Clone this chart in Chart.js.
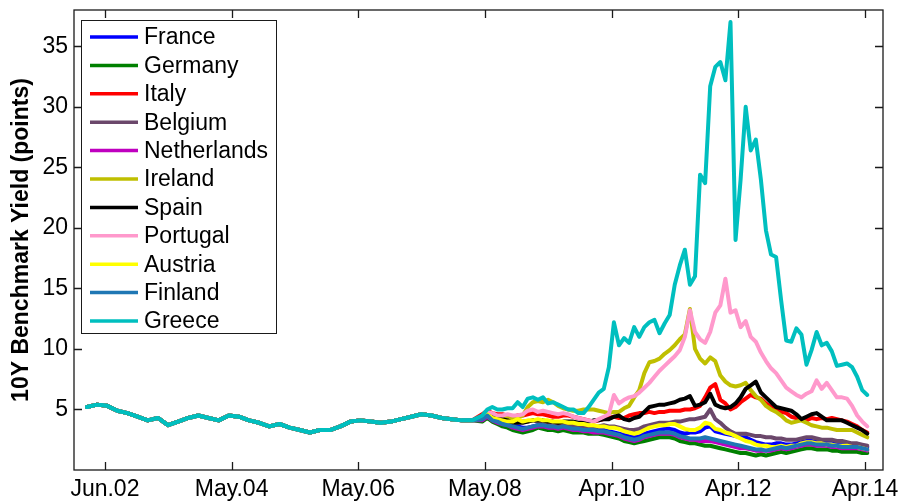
<!DOCTYPE html>
<html>
<head>
<meta charset="utf-8">
<script src="https://cdn.jsdelivr.net/npm/chart.js"></script>
<style>
  html, body { margin: 0; padding: 0; background: #fff; }
  #wrap { width: 901px; height: 502px; }
</style>
</head>
<body>
<div id="wrap"><canvas id="yields" width="901" height="502"></canvas></div>
<script>
// x axis = trading-day index, ticks every 500 days
const tickDays = [71, 571, 1071, 1571, 2071, 2571, 3071];
const tickLabels = ['Jun.02', 'May.04', 'May.06', 'May.08', 'Apr.10', 'Apr.12', 'Apr.14'];
const yTicks = [5, 10, 15, 20, 25, 30, 35];

const countries = ['France', 'Germany', 'Italy', 'Belgium', 'Netherlands', 'Ireland',
                   'Spain', 'Portugal', 'Austria', 'Finland', 'Greece'];
const colours = ['#0000ff', '#008000', '#ff0000', '#6b486b', '#bf00bf', '#bfbf00',
                 '#000000', '#ff99cc', '#ffff00', '#1f77b4', '#00bfbf'];

// before 2008 all eleven yields sit on top of each other
const earlyDays = [0, 40, 80, 120, 160, 200, 240, 280, 320, 360, 400, 440, 480, 520, 560,
  600, 640, 680, 720, 760, 800, 840, 880, 920, 960, 1000, 1040, 1080, 1120, 1160, 1200,
  1240, 1280, 1320, 1360, 1400, 1440, 1480, 1520];
const pre2008 = [5.2, 5.4, 5.3, 4.9, 4.7, 4.4, 4.1, 4.3, 3.7, 4.0,
  4.3, 4.5, 4.3, 4.1, 4.5, 4.4, 4.1, 3.9, 3.6, 3.8,
  3.5, 3.3, 3.1, 3.3, 3.3, 3.6, 4.0, 4.1, 4.0, 3.9,
  4.0, 4.2, 4.4, 4.6, 4.5, 4.3, 4.2, 4.1, 4.1];

const lateDays = [1560, 1580, 1600, 1620, 1640, 1660, 1680, 1700, 1720, 1740, 1760, 1780,
  1800, 1820, 1840, 1860, 1880, 1900, 1920, 1940, 1960, 1980, 2000, 2020, 2040, 2060, 2080,
  2100, 2120, 2140, 2160, 2180, 2200, 2220, 2240, 2260, 2280, 2300, 2320, 2340, 2360, 2380,
  2400, 2420, 2440, 2460, 2480, 2500, 2520, 2540, 2560, 2580, 2600, 2620, 2640, 2660, 2680,
  2700, 2720, 2740, 2760, 2780, 2800, 2820, 2840, 2860, 2880, 2900, 2920, 2940, 2960, 2980,
  3000, 3020, 3040, 3060, 3080];

const france = [4.2, 4.5, 4.2, 4.1, 3.9, 3.8, 3.6, 3.6, 3.5, 3.5,
  3.6, 3.7, 3.7, 3.6, 3.6, 3.5, 3.6, 3.5, 3.4, 3.4,
  3.4, 3.3, 3.3, 3.3, 3.3, 3.2, 3.1, 3.0, 2.9, 2.8,
  2.7, 2.8, 3.0, 3.1, 3.2, 3.3, 3.4, 3.4, 3.3, 3.1,
  3.0, 3.1, 3.1, 3.2, 3.5, 3.6, 3.2, 3.1, 3.0, 2.9,
  2.8, 2.7, 2.7, 2.5, 2.3, 2.2, 2.1, 2.1, 2.2, 2.2,
  2.1, 2.1, 2.2, 2.3, 2.4, 2.4, 2.3, 2.3, 2.3, 2.3,
  2.2, 2.2, 2.2, 2.1, 2.1, 2.0, 1.9];
const germany = [4.0, 4.3, 4.0, 3.8, 3.6, 3.5, 3.3, 3.2, 3.1, 3.2,
  3.3, 3.5, 3.4, 3.3, 3.3, 3.2, 3.3, 3.2, 3.1, 3.1,
  3.1, 3.0, 3.0, 3.0, 2.9, 2.8, 2.7, 2.6, 2.4, 2.3,
  2.2, 2.3, 2.4, 2.5, 2.6, 2.7, 2.7, 2.7, 2.6, 2.4,
  2.3, 2.2, 2.2, 2.1, 2.0, 2.0, 1.9, 1.8, 1.7, 1.6,
  1.5, 1.4, 1.4, 1.3, 1.2, 1.3, 1.2, 1.3, 1.4, 1.5,
  1.4, 1.5, 1.6, 1.7, 1.8, 1.8, 1.7, 1.7, 1.7, 1.6,
  1.6, 1.5, 1.5, 1.5, 1.5, 1.4, 1.4];
const italy = [4.6, 4.9, 4.7, 4.6, 4.6, 4.5, 4.4, 4.5, 4.5, 4.6,
  4.7, 4.6, 4.6, 4.5, 4.4, 4.4, 4.5, 4.5, 4.4, 4.3,
  4.2, 4.1, 4.0, 4.1, 4.2, 4.3, 4.4, 4.3, 4.3, 4.5,
  4.6, 4.7, 4.7, 4.8, 4.7, 4.8, 4.8, 4.9, 4.9, 4.9,
  5.0, 5.0, 5.1, 5.3, 6.0, 6.8, 7.1, 5.8, 5.5, 5.0,
  5.2, 5.6, 5.9, 6.2, 6.0, 5.9, 5.5, 5.2, 5.0, 4.8,
  4.7, 4.4, 4.3, 4.2, 4.1, 4.3, 4.2, 4.3, 4.2, 4.3,
  4.2, 4.1, 4.0, 3.8, 3.6, 3.3, 3.1];
const belgium = [4.2, 4.6, 4.3, 4.2, 4.2, 4.1, 4.0, 4.0, 4.0, 4.0,
  4.1, 4.0, 4.0, 3.9, 3.9, 3.8, 3.8, 3.8, 3.7, 3.6,
  3.6, 3.6, 3.5, 3.6, 3.7, 3.6, 3.6, 3.5, 3.4, 3.3,
  3.3, 3.4, 3.6, 3.7, 3.8, 3.9, 3.9, 3.9, 4.0, 4.0,
  4.1, 4.2, 4.2, 4.3, 4.4, 5.0, 4.2, 3.9, 3.5, 3.2,
  3.0, 3.0, 3.0, 2.9, 2.8, 2.8, 2.7, 2.7, 2.6, 2.6,
  2.5, 2.5, 2.5, 2.6, 2.7, 2.7, 2.6, 2.5, 2.5, 2.5,
  2.4, 2.4, 2.3, 2.2, 2.2, 2.1, 2.0];
const netherlands = [4.1, 4.4, 4.1, 3.9, 3.8, 3.7, 3.5, 3.4, 3.3, 3.4,
  3.5, 3.6, 3.6, 3.5, 3.5, 3.4, 3.5, 3.4, 3.3, 3.3,
  3.2, 3.2, 3.1, 3.1, 3.1, 3.0, 2.9, 2.8, 2.6, 2.5,
  2.4, 2.5, 2.7, 2.8, 2.9, 3.0, 3.0, 3.0, 2.9, 2.7,
  2.6, 2.5, 2.5, 2.4, 2.4, 2.4, 2.3, 2.2, 2.1, 2.0,
  1.9, 1.8, 1.8, 1.7, 1.6, 1.6, 1.6, 1.6, 1.7, 1.8,
  1.7, 1.8, 1.9, 2.0, 2.1, 2.1, 2.0, 2.0, 2.0, 1.9,
  1.9, 1.8, 1.8, 1.8, 1.8, 1.7, 1.6];
const ireland = [4.3, 4.6, 4.4, 4.3, 4.3, 4.3, 4.2, 4.3, 4.5, 5.2,
  5.6, 5.7, 5.6, 5.8, 5.6, 5.3, 5.1, 5.0, 4.9, 4.9,
  5.0, 5.0, 5.0, 4.9, 4.8, 4.7, 4.8, 4.8, 5.1, 5.3,
  6.0, 6.6, 8.0, 8.9, 9.0, 9.2, 9.6, 9.9, 10.3, 10.8,
  11.2, 13.3, 10.0, 9.2, 8.8, 9.3, 9.0, 7.8, 7.3, 7.0,
  6.9, 7.0, 7.2, 6.6, 6.1, 5.8, 5.3, 5.0, 4.8, 4.5,
  4.1, 3.9, 4.0, 4.1, 3.9, 3.7, 3.6, 3.5, 3.5, 3.4,
  3.3, 3.3, 3.3, 3.3, 3.1, 2.9, 2.7];
const spain = [4.4, 4.6, 4.5, 4.3, 4.2, 4.1, 3.9, 3.9, 3.9, 4.0,
  4.1, 4.1, 4.1, 4.0, 4.0, 3.9, 4.0, 4.0, 4.0, 3.9,
  3.9, 4.0, 4.1, 4.1, 4.2, 4.2, 4.4, 4.5, 4.2, 4.1,
  4.3, 4.4, 4.8, 5.2, 5.3, 5.4, 5.4, 5.5, 5.6, 5.8,
  5.9, 6.1, 5.3, 5.4, 5.6, 6.3, 5.4, 5.2, 5.1, 5.2,
  5.5, 6.0, 6.7, 7.0, 7.3, 6.4, 6.0, 5.6, 5.2, 5.1,
  5.0, 4.9, 4.6, 4.2, 4.4, 4.6, 4.7, 4.4, 4.1, 4.1,
  4.1, 4.1, 3.9, 3.7, 3.5, 3.3, 3.0];
const portugal = [4.4, 4.8, 4.7, 4.5, 4.5, 4.6, 4.5, 4.5, 4.6, 4.9,
  5.0, 4.8, 4.9, 4.8, 4.7, 4.6, 4.7, 4.6, 4.4, 4.3,
  4.2, 4.1, 4.0, 4.2, 4.4, 4.6, 6.2, 5.5, 5.8, 6.0,
  6.1, 6.4, 6.8, 7.2, 7.7, 8.2, 8.6, 9.0, 9.4, 9.9,
  11.0, 13.2, 11.4, 10.8, 10.5, 11.4, 13.0, 13.6, 15.8, 13.0,
  13.2, 11.8, 12.3, 11.0, 10.6, 9.7, 9.0, 8.4, 8.0, 7.4,
  6.8, 6.5, 6.2, 6.0, 6.3, 6.5, 7.4, 6.7, 7.2, 6.6,
  6.0, 6.0, 5.9, 5.3, 4.5, 4.0, 3.6];
const austria = [4.3, 4.6, 4.3, 4.2, 4.1, 4.0, 4.0, 4.2, 4.0, 4.1,
  4.1, 4.2, 4.1, 4.1, 4.0, 4.0, 4.0, 3.9, 3.9, 3.8,
  3.8, 3.7, 3.7, 3.6, 3.6, 3.5, 3.5, 3.4, 3.2, 3.1,
  3.0, 3.1, 3.3, 3.5, 3.6, 3.7, 3.7, 3.8, 3.8, 3.6,
  3.4, 3.3, 3.3, 3.5, 3.9, 3.8, 3.4, 3.3, 3.1, 3.0,
  2.8, 2.6, 2.4, 2.3, 2.1, 2.0, 2.0, 1.9, 1.9, 2.0,
  1.9, 2.0, 2.0, 2.2, 2.3, 2.3, 2.2, 2.2, 2.1, 2.1,
  2.0, 2.0, 2.0, 1.9, 1.9, 1.8, 1.7];
const finland = [4.2, 4.5, 4.1, 4.0, 3.8, 3.7, 3.6, 3.5, 3.4, 3.5,
  3.6, 3.7, 3.7, 3.6, 3.6, 3.5, 3.6, 3.5, 3.4, 3.4,
  3.3, 3.3, 3.3, 3.2, 3.2, 3.1, 3.0, 2.9, 2.7, 2.6,
  2.5, 2.6, 2.8, 2.9, 3.0, 3.1, 3.1, 3.1, 3.0, 2.8,
  2.7, 2.6, 2.6, 2.6, 2.7, 2.6, 2.5, 2.4, 2.3, 2.2,
  2.1, 2.0, 1.9, 1.8, 1.7, 1.7, 1.6, 1.7, 1.8, 1.9,
  1.8, 1.9, 2.0, 2.1, 2.2, 2.2, 2.1, 2.1, 2.1, 2.0,
  2.0, 1.9, 1.9, 1.9, 1.9, 1.8, 1.7];
const greece = [4.5, 5.0, 5.2, 5.0, 5.0, 5.1, 5.1, 5.6, 5.2, 5.9,
  6.0, 5.8, 6.0, 5.5, 5.6, 5.4, 5.2, 5.0, 5.0, 4.7,
  4.7, 5.2, 5.8, 6.4, 6.7, 8.5, 12.2, 10.3, 10.9, 10.5,
  11.8, 11.0, 11.8, 12.2, 12.4, 11.3, 12.1, 12.8, 15.3, 16.9,
  18.2, 15.3, 16.0, 24.4, 23.7, 31.7, 33.3, 33.7, 32.2, 37.0,
  19.0, 24.0, 30.0, 26.4, 27.3, 24.0, 19.8, 17.8, 17.6, 14.0,
  10.7, 10.6, 11.7, 11.2, 8.7, 9.9, 11.4, 10.3, 10.5, 9.8,
  8.6, 8.7, 8.8, 8.5, 7.7, 6.6, 6.2];

const lateSeries = [france, germany, italy, belgium, netherlands, ireland,
                    spain, portugal, austria, finland, greece];

const FONT = 'Liberation Sans, Arial, sans-serif';
const INK = '#1a1a1a';
Chart.defaults.font.family = FONT;
Chart.defaults.color = '#000';

const allDays = earlyDays.concat(lateDays);
const datasets = countries.map((name, i) => {
  const vals = pre2008.concat(lateSeries[i]);
  return {
    label: name,
    data: allDays.map((d, j) => ({ x: d, y: vals[j] })),
    borderColor: colours[i],
    backgroundColor: colours[i],
    borderWidth: 4,
    borderJoinStyle: 'round',
    borderCapStyle: 'round',
    pointRadius: 0,
    tension: 0,
    fill: false,
    order: countries.length - i   // later series drawn on top, like MATLAB
  };
});

// box, inward ticks, y title and legend in the old MATLAB look
const matlabFrame = {
  id: 'matlabFrame',
  afterDraw(chart) {
    const { ctx, chartArea: a, scales: { x, y } } = chart;
    ctx.save();
    ctx.strokeStyle = INK;
    ctx.lineWidth = 1.3;
    ctx.strokeRect(a.left, a.top, a.right - a.left, a.bottom - a.top);
    const tl = 8;
    ctx.beginPath();
    tickDays.forEach(d => {
      const px = Math.round(x.getPixelForValue(d)) + 0.5;
      ctx.moveTo(px, a.bottom); ctx.lineTo(px, a.bottom - tl);
      ctx.moveTo(px, a.top); ctx.lineTo(px, a.top + tl);
    });
    yTicks.forEach(v => {
      const py = Math.round(y.getPixelForValue(v)) + 0.5;
      ctx.moveTo(a.left, py); ctx.lineTo(a.left + tl, py);
      ctx.moveTo(a.right, py); ctx.lineTo(a.right - tl, py);
    });
    ctx.stroke();

    // y axis title
    ctx.save();
    ctx.translate(22, (a.top + a.bottom) / 2);
    ctx.rotate(-Math.PI / 2);
    ctx.font = 'bold 23px ' + FONT;
    ctx.fillStyle = '#000';
    ctx.textAlign = 'center';
    ctx.textBaseline = 'middle';
    ctx.fillText('10Y Benchmark Yield (points)', 0, 0);
    ctx.restore();

    // legend
    const lx = 81, ly = 20, lw = 195, lh = 313, row = 28.4;
    ctx.fillStyle = '#fff';
    ctx.fillRect(lx, ly, lw, lh);
    ctx.lineWidth = 1;
    ctx.strokeStyle = INK;
    ctx.strokeRect(lx + 0.5, ly + 0.5, lw, lh);
    ctx.font = '23px ' + FONT;
    ctx.textBaseline = 'middle';
    ctx.textAlign = 'left';
    chart.data.datasets.forEach((ds, i) => {
      const cy = ly + 17 + i * row;
      ctx.strokeStyle = ds.borderColor;
      ctx.lineWidth = 3.5;
      ctx.beginPath();
      ctx.moveTo(90, cy); ctx.lineTo(138, cy);
      ctx.stroke();
      ctx.fillStyle = '#000';
      ctx.fillText(ds.label, 144, cy + 1);
    });
    ctx.restore();
  }
};

new Chart(document.getElementById('yields'), {
  type: 'line',
  data: { datasets },
  options: {
    responsive: false,
    animation: false,
    events: [],
    layout: { padding: { left: 0, top: 10, right: 18, bottom: 0 } },
    plugins: { legend: { display: false }, tooltip: { enabled: false } },
    scales: {
      x: {
        type: 'linear',
        min: -51,
        max: 3142,
        grid: { display: false, drawTicks: false },
        border: { display: false },
        ticks: {
          autoSkip: false,
          maxRotation: 0,
          padding: 6,
          color: '#000',
          font: { size: 23 },
          callback: (v, i) => tickLabels[i]
        },
        afterBuildTicks: s => { s.ticks = tickDays.map(v => ({ value: v })); },
        afterFit: s => { s.height = 32; s.paddingLeft = 0; s.paddingRight = 0; }
      },
      y: {
        min: 0,
        max: 38,
        grid: { display: false, drawTicks: false },
        border: { display: false },
        ticks: { padding: 6, color: '#000', font: { size: 23 } },
        afterBuildTicks: s => { s.ticks = yTicks.map(v => ({ value: v })); },
        afterFit: s => { s.width = 74; s.paddingTop = 0; s.paddingBottom = 0; }
      }
    }
  },
  plugins: [matlabFrame]
});
</script>
</body>
</html>
